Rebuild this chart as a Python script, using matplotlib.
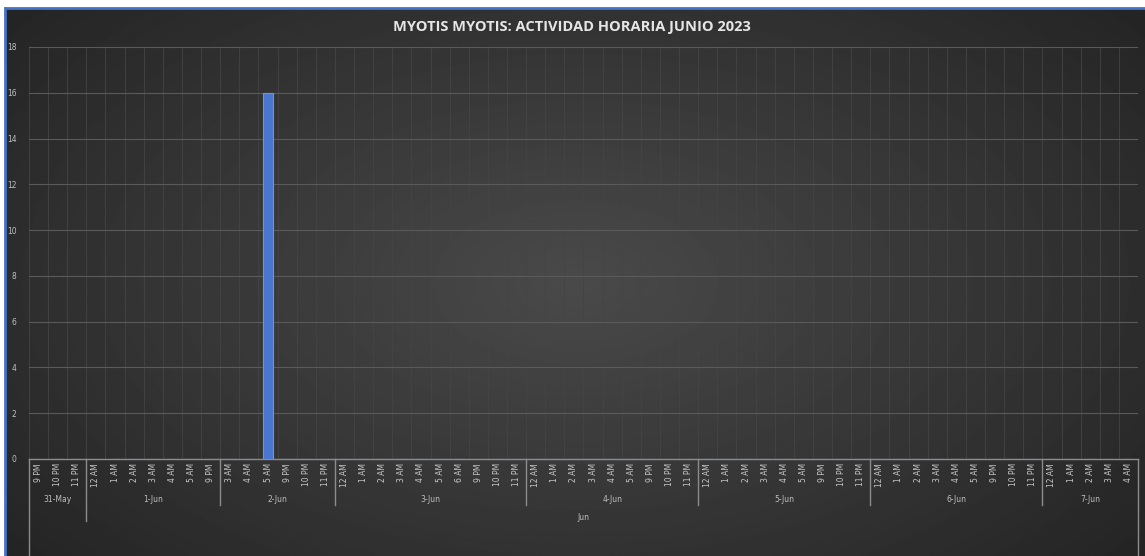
import numpy as np
import matplotlib.pyplot as plt
from matplotlib.transforms import blended_transform_factory

# datos: horas registradas por dia
days = ['31-May', '1-Jun', '2-Jun', '3-Jun', '4-Jun', '5-Jun', '6-Jun', '7-Jun']
hours_may31 = ['9 PM', '10 PM', '11 PM']
hours_jun1 = ['12 AM', '1 AM', '2 AM', '3 AM', '4 AM', '5 AM', '9 PM']
hours_jun2 = ['3 AM', '4 AM', '5 AM', '9 PM', '10 PM', '11 PM']
hours_jun3 = ['12 AM', '1 AM', '2 AM', '3 AM', '4 AM', '5 AM', '6 AM', '9 PM', '10 PM', '11 PM']
hours_jun4 = ['12 AM', '1 AM', '2 AM', '3 AM', '4 AM', '5 AM', '9 PM', '10 PM', '11 PM']
hours_jun5 = ['12 AM', '1 AM', '2 AM', '3 AM', '4 AM', '5 AM', '9 PM', '10 PM', '11 PM']
hours_jun6 = ['12 AM', '1 AM', '2 AM', '3 AM', '4 AM', '5 AM', '9 PM', '10 PM', '11 PM']
hours_jun7 = ['12 AM', '1 AM', '2 AM', '3 AM', '4 AM']
month_label = 'Jun'

# contactos de Myotis myotis (solo 2-Jun 5 AM tiene actividad)
counts_may31 = [0, 0, 0]
counts_jun1 = [0, 0, 0, 0, 0, 0, 0]
counts_jun2 = [0, 0, 16, 0, 0, 0]
counts_jun3 = [0] * 10
counts_jun4 = [0] * 9
counts_jun5 = [0] * 9
counts_jun6 = [0] * 9
counts_jun7 = [0] * 5

groups = [hours_may31, hours_jun1, hours_jun2, hours_jun3,
          hours_jun4, hours_jun5, hours_jun6, hours_jun7]
count_groups = [counts_may31, counts_jun1, counts_jun2, counts_jun3,
                counts_jun4, counts_jun5, counts_jun6, counts_jun7]

labels = [h for g in groups for h in g]
values = [v for g in count_groups for v in g]
n = len(labels)
x = np.arange(n)

W, H = 1145, 556
fig = plt.figure(figsize=(W / 100, H / 100), dpi=100)
fig.patch.set_facecolor('white')

# fondo con degradado radial
bg = fig.add_axes([6 / W, 0, 1 - 6 / W, (H - 9) / H])
yy, xx = np.mgrid[0:1:300j, 0:1:600j]
r = np.sqrt(((xx - 0.5) / 0.75) ** 2 + ((yy - 0.5) / 0.9) ** 2)
shade = np.clip(0.29 - 0.17 * r, 0.12, 0.3)
bg.imshow(shade, cmap='gray', vmin=0, vmax=1, aspect='auto', extent=[0, 1, 0, 1])
bg.set_axis_off()

# borde azul arriba e izquierda
fig.add_artist(plt.Line2D([6 / W, 1], [(H - 8) / H] * 2, color='#4472C4', lw=2))
fig.add_artist(plt.Line2D([5 / W] * 2, [0, (H - 8) / H], color='#4472C4', lw=2))

left, right, y0, y18 = 29, 1138, 459, 47
ax = fig.add_axes([left / W, (H - y0) / H, (right - left) / W, (y0 - y18) / H])
ax.set_facecolor('none')

ax.bar(x, values, width=0.5, color='#4a76cf', edgecolor='#6a95e0', linewidth=0.8, zorder=3)

ax.set_xlim(-0.5, n - 0.5)
ax.set_ylim(0, 18)
ax.set_yticks(range(0, 19, 2))
ax.tick_params(axis='y', length=0, labelsize=5.5, labelcolor='#bfbfbf', pad=9)
ax.set_xticks(x)
ax.set_xticklabels(labels, rotation=90, fontsize=5.5, color='#c8c8c8')
ax.tick_params(axis='x', length=0, pad=3)

ax.grid(axis='y', color='#5a5a5a', lw=0.8)
for b in np.arange(-0.5, n, 1):
    ax.axvline(b, color='#444444', lw=0.6, zorder=0)

for s in ['top', 'right', 'left']:
    ax.spines[s].set_visible(False)
ax.spines['bottom'].set_color('#8c8c8c')
ax.spines['bottom'].set_linewidth(1.0)

# etiquetas de dia y separadores
trans = blended_transform_factory(ax.transData, ax.transAxes)
ah = y0 - y18
def frac(py):
    return (y0 - py) / ah

start = 0
for i, (d, g) in enumerate(zip(days, groups)):
    mid = start + len(g) / 2 - 0.5
    ax.text(mid, frac(500), d, transform=trans, ha='center', va='center',
            fontsize=5.5, color='#bfbfbf', clip_on=False)
    start += len(g)
    if i < len(days) - 1:
        bottom = 521 if i == 0 else 505
        ax.plot([start - 0.5] * 2, [0, frac(bottom)], transform=trans,
                color='#8c8c8c', lw=1.0, clip_on=False)

ax.text((n - 1) / 2, frac(517), month_label, transform=trans, ha='center',
        va='center', fontsize=5.5, color='#bfbfbf', clip_on=False)
for xb in [-0.5, n - 0.5]:
    ax.plot([xb] * 2, [0, frac(H + 5)], transform=trans, color='#8c8c8c',
            lw=1.0, clip_on=False)

fig.text(572 / W, (H - 27) / H, 'MYOTIS MYOTIS: ACTIVIDAD HORARIA JUNIO 2023',
         ha='center', va='center', fontsize=10.5, fontweight='bold',
         color='#e6e6e6', family='Open Sans')

fig.savefig('out.png', dpi=100)
